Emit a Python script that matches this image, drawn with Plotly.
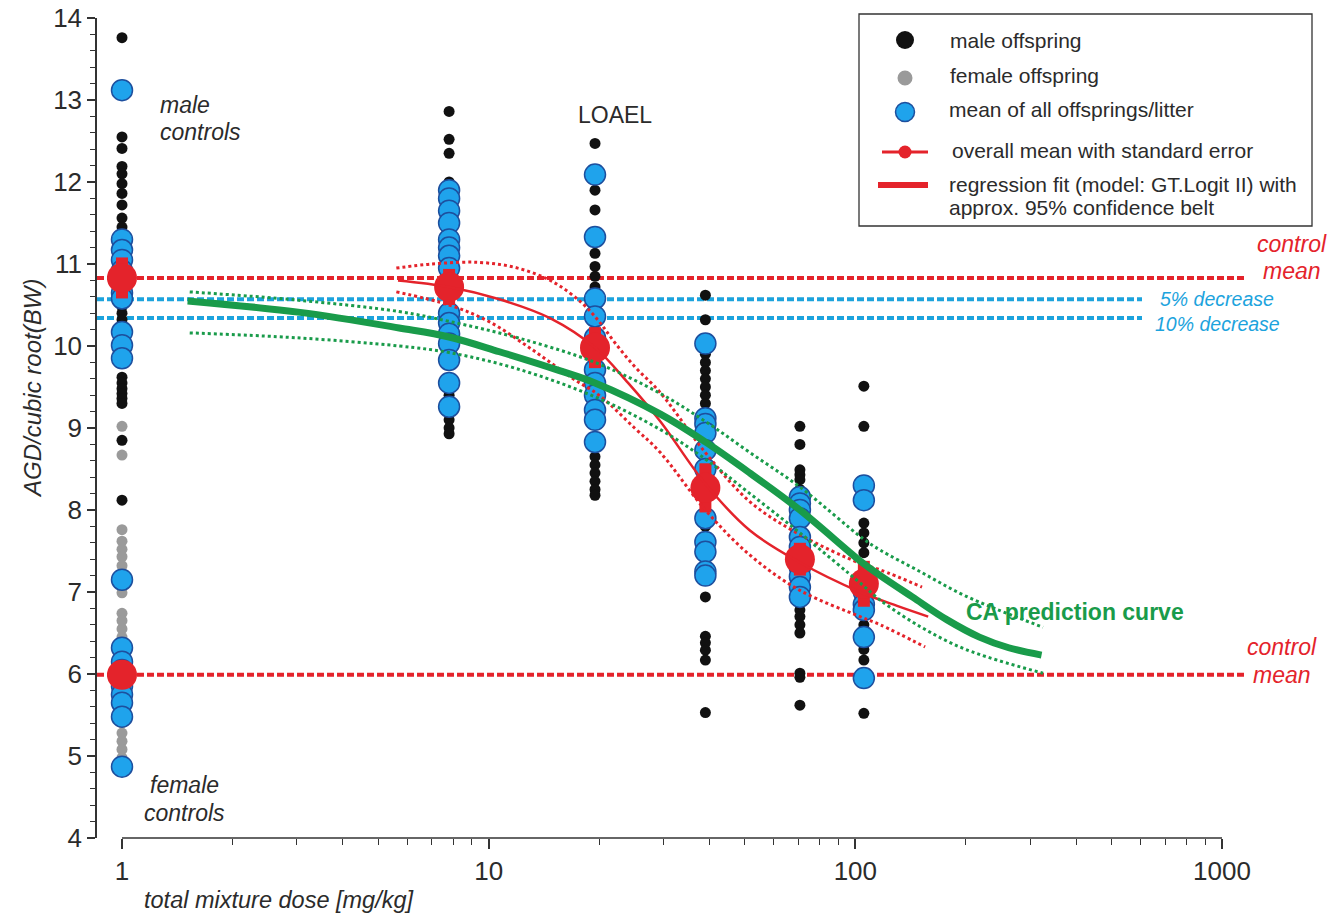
import plotly.graph_objects as go

# ---------------- data ----------------
doses = [7.8, 19.5, 39.0, 70.6, 105.5]

ctrl_male = [13.76, 12.55, 12.41, 12.19, 12.10, 11.98, 11.86, 11.72, 11.56, 11.45, 11.35, 11.2,
             11.05, 10.9, 10.75, 10.6, 10.48, 10.4, 10.32, 10.2, 10.05, 9.9, 9.62, 9.55, 9.48,
             9.42, 9.36, 9.30, 8.85, 8.12]
ctrl_female = [9.02, 8.67, 7.76, 7.62, 7.52, 7.43, 7.32, 7.05, 6.99, 6.74, 6.65, 6.55, 6.45, 6.38,
               6.25, 6.15, 6.05, 5.95, 5.85, 5.75, 5.6, 5.5, 5.4, 5.28, 5.18, 5.08, 4.98]
ctrl_litter = [13.12, 11.30, 11.17, 11.05, 10.92, 10.65, 10.58, 10.17, 10.01, 9.85,
               7.15, 6.32, 6.15, 6.05, 5.85, 5.75, 5.65, 5.48, 4.87]

male_by_dose = [
    [12.86, 12.52, 12.35, 12.0, 11.7, 11.4, 11.0, 10.8, 10.5, 10.2, 9.9, 9.6, 9.4, 9.1, 9.0, 8.93],
    [12.47, 11.90, 11.66, 11.13, 10.97, 10.85, 10.72, 10.45, 9.85, 9.3, 8.65, 8.55, 8.45, 8.35, 8.25, 8.18],
    [10.62, 10.32, 9.9, 9.8, 9.7, 9.6, 9.5, 9.4, 9.3, 9.2, 8.8, 8.6, 8.4, 8.1, 7.8, 7.4, 6.94,
     6.46, 6.38, 6.29, 6.17, 5.53],
    [9.02, 8.80, 8.49, 8.43, 8.37, 8.25, 7.8, 7.0, 6.85, 6.78, 6.70, 6.60, 6.50, 6.01, 5.96, 5.62],
    [9.51, 9.02, 7.84, 7.72, 7.60, 7.48, 7.2, 6.95, 6.9, 6.6, 6.3, 6.17, 5.52],
]
litter_by_dose = [
    [11.90, 11.80, 11.65, 11.50, 11.30, 11.20, 11.10, 10.95, 10.40, 10.28, 10.15, 10.03, 9.83, 9.55, 9.26],
    [12.09, 11.33, 10.58, 10.36, 10.10, 9.95, 9.71, 9.55, 9.40, 9.22, 9.10, 8.83],
    [10.03, 9.12, 9.05, 8.94, 8.73, 8.5, 7.90, 7.61, 7.49, 7.25, 7.20],
    [8.16, 8.08, 8.0, 7.9, 7.67, 7.55, 7.45, 7.3, 7.19, 7.06, 6.94],
    [8.30, 8.12, 7.0, 6.85, 6.78, 6.45, 5.95],
]

mean_dose = [1, 1, 7.8, 19.5, 39.0, 70.6, 105.5]
mean_val = [10.83, 5.99, 10.72, 9.98, 8.27, 7.40, 7.10]
mean_se = [0.25, 0.12, 0.22, 0.25, 0.30, 0.20, 0.28]

ctrl_mean_male = 10.83
ctrl_mean_female = 5.99
dec5 = 10.57
dec10 = 10.34

fit_dose = [5.66, 7.8, 10.7, 14.7, 19.5, 24.0, 29.4, 39.0, 51.6, 70.6, 103, 130, 158]
fit_val = [10.80, 10.72, 10.57, 10.34, 9.98, 9.55, 9.08, 8.32, 7.75, 7.36, 7.0, 6.83, 6.70]
fit_up_dose = [5.6, 7.0, 9.4, 12.0, 15.0, 18.0, 20.0, 22.0, 25.0, 29.4, 39.0, 51.6, 70.6, 103, 117, 152]
fit_up_val = [10.95, 11.0, 11.02, 10.95, 10.78, 10.52, 10.3, 10.05, 9.75, 9.43, 8.7, 8.1, 7.7, 7.35, 7.27, 7.06]
fit_lo_dose = [5.6, 7.8, 10.0, 13.2, 17.0, 20.0, 25.0, 29.4, 39.0, 51.6, 70.6, 103, 117, 155]
fit_lo_val = [10.66, 10.5, 10.3, 9.95, 9.6, 9.4, 9.0, 8.70, 8.0, 7.45, 7.02, 6.7, 6.6, 6.33]

ca_dose = [1.51, 3.06, 5.7, 7.8, 10.7, 15.6, 19.5, 29.4, 39.0, 51.6, 70.6, 105, 117, 143, 178, 218, 262, 322]
ca_val = [10.55, 10.41, 10.22, 10.11, 9.93, 9.70, 9.55, 9.17, 8.83, 8.45, 8.0, 7.35, 7.2, 6.94, 6.66,
          6.45, 6.32, 6.23]
ca_up_dose = [1.53, 3.0, 5.7, 7.8, 12.0, 19.5, 29.4, 39.0, 51.6, 70.6, 105, 117, 150, 200, 325]
ca_up_val = [10.66, 10.56, 10.42, 10.3, 10.1, 9.8, 9.42, 9.08, 8.7, 8.28, 7.65, 7.51, 7.25, 6.95, 6.57]
ca_lo_dose = [1.53, 3.0, 5.7, 7.8, 12.0, 19.5, 29.4, 39.0, 51.6, 70.6, 105, 117, 150, 200, 325]
ca_lo_val = [10.16, 10.1, 10.0, 9.92, 9.72, 9.38, 8.98, 8.62, 8.2, 7.72, 7.08, 6.9, 6.58, 6.3, 6.01]

x_ticks = [1, 10, 100, 1000]
x_ticktext = ["1", "10", "100", "1000"]

# ---------------- styling ----------------
FONT = "Liberation Sans, Arial, sans-serif"
RED = "#E4232B"
BLUE_FILL = "#1FA3EC"
BLUE_EDGE = "#1D4F9E"
BLUE_LINE = "#1CA3DD"
GREEN = "#199B4A"
TXT = "#2b2b2b"

W, H = 1335, 915
L, R, T, B = 97, 1222, 18, 838  # plot area pixels


def px(x):
    return (x - L) / (R - L)


def py(y):
    return (B - y) / (B - T)


fig = go.Figure()

# male offspring
mx, my = [1] * len(ctrl_male), list(ctrl_male)
for d, vals in zip(doses, male_by_dose):
    mx += [d] * len(vals)
    my += vals
fig.add_trace(go.Scatter(x=mx, y=my, mode="markers",
                         marker=dict(size=11, color="#111111"), showlegend=False))
# female offspring
fig.add_trace(go.Scatter(x=[1] * len(ctrl_female), y=ctrl_female, mode="markers",
                         marker=dict(size=11, color="#9a9a9a"), showlegend=False))
# litter means
lx, ly = [1] * len(ctrl_litter), list(ctrl_litter)
for d, vals in zip(doses, litter_by_dose):
    lx += [d] * len(vals)
    ly += vals
fig.add_trace(go.Scatter(x=lx, y=ly, mode="markers",
                         marker=dict(size=21, color=BLUE_FILL, line=dict(color=BLUE_EDGE, width=1.5)),
                         showlegend=False))
# overall means with SE
fig.add_trace(go.Scatter(x=mean_dose, y=mean_val, mode="markers",
                         marker=dict(size=30, color=RED),
                         error_y=dict(type="data", array=mean_se, color=RED, thickness=12, width=0),
                         showlegend=False))

# regression fit + belt
fig.add_trace(go.Scatter(x=fit_up_dose, y=fit_up_val, mode="lines", line_shape="spline",
                         line=dict(color=RED, width=3, dash="dot"), showlegend=False))
fig.add_trace(go.Scatter(x=fit_lo_dose, y=fit_lo_val, mode="lines", line_shape="spline",
                         line=dict(color=RED, width=3, dash="dot"), showlegend=False))
fig.add_trace(go.Scatter(x=fit_dose, y=fit_val, mode="lines", line_shape="spline",
                         line=dict(color=RED, width=2.5), showlegend=False))
# CA prediction
fig.add_trace(go.Scatter(x=ca_up_dose, y=ca_up_val, mode="lines", line_shape="spline",
                         line=dict(color=GREEN, width=3, dash="dot"), showlegend=False))
fig.add_trace(go.Scatter(x=ca_lo_dose, y=ca_lo_val, mode="lines", line_shape="spline",
                         line=dict(color=GREEN, width=3, dash="dot"), showlegend=False))
fig.add_trace(go.Scatter(x=ca_dose, y=ca_val, mode="lines", line_shape="spline",
                         line=dict(color=GREEN, width=7), showlegend=False))

shapes = []
# horizontal reference lines
for yv, color, xend in [(ctrl_mean_male, RED, px(1247)), (ctrl_mean_female, RED, px(1247)),
                        (dec5, BLUE_LINE, px(1142)), (dec10, BLUE_LINE, px(1142))]:
    shapes.append(dict(type="line", xref="paper", yref="y", x0=0, x1=xend, y0=yv, y1=yv,
                       line=dict(color=color, width=4, dash="7px,3px"), layer="below"))
# x axis line (from 1 to 1000 only)
shapes.append(dict(type="line", xref="x", yref="paper", x0=1, x1=1000, y0=0, y1=0,
                   line=dict(color="#333333", width=1.5)))
# legend box
shapes.append(dict(type="rect", xref="paper", yref="paper", x0=px(859), x1=px(1312),
                   y0=py(226), y1=py(14), line=dict(color="#333333", width=1.3),
                   fillcolor="white"))


def circ(cx, cy, r, fill, edge=None, ew=0):
    return dict(type="circle", xref="paper", yref="paper", xsizemode="pixel", ysizemode="pixel",
                xanchor=px(cx), yanchor=py(cy), x0=-r, x1=r, y0=-r, y1=r,
                fillcolor=fill, line=dict(color=edge or fill, width=ew))


shapes.append(circ(905, 40, 9, "#111111"))
shapes.append(circ(905, 78, 7.5, "#9a9a9a"))
shapes.append(circ(905, 112, 9.5, BLUE_FILL, BLUE_EDGE, 1.5))
shapes.append(dict(type="line", xref="paper", yref="paper", x0=px(882), x1=px(928),
                   y0=py(152), y1=py(152), line=dict(color=RED, width=3)))
shapes.append(circ(905, 152, 6.5, RED))
shapes.append(dict(type="line", xref="paper", yref="paper", x0=px(878), x1=px(928),
                   y0=py(185), y1=py(185), line=dict(color=RED, width=6)))

ann = []


def text(x, y, s, size=21, color=TXT, xanchor="left", **kw):
    ann.append(dict(x=px(x), y=py(y), xref="paper", yref="paper", text=s, showarrow=False,
                    xanchor=xanchor, yanchor="middle", font=dict(family=FONT, size=size, color=color),
                    **kw))


text(948, 40, "male offspring")
text(948, 76, "female offspring")
text(947, 110, "mean of all offsprings/litter")
text(950, 150, "overall mean with standard error")
text(947, 185, "regression fit (model: GT.Logit II) with")
text(947, 207, "approx. 95% confidence belt")

text(158, 105, "<i>male</i>", size=23)
text(158, 132, "<i>controls</i>", size=23)
text(184, 785, "<i>female</i>", size=23, xanchor="center")
text(184, 813, "<i>controls</i>", size=23, xanchor="center")
text(615, 115, "LOAEL", size=23, xanchor="center")
text(1329, 244, "<i>control</i>", size=23, color=RED, xanchor="right")
text(1323, 271, "<i>mean</i>", size=23, color=RED, xanchor="right")
text(1319, 647, "<i>control</i>", size=23, color=RED, xanchor="right")
text(1313, 675, "<i>mean</i>", size=23, color=RED, xanchor="right")
text(1158, 299, "<i>5% decrease</i>", size=19.5, color=BLUE_LINE)
text(1153, 324, "<i>10% decrease</i>", size=19.5, color=BLUE_LINE)
text(964, 612, "<b>CA prediction curve</b>", size=23, color=GREEN)
text(142, 900, "<i>total mixture dose [mg/kg]</i>", size=23.5)
ann.append(dict(x=px(33), y=py(389), xref="paper", yref="paper", text="<i>AGD/cubic root(BW)</i>",
                showarrow=False, textangle=-90, xanchor="center", yanchor="middle",
                font=dict(family=FONT, size=24, color=TXT)))

fig.update_layout(
    width=W, height=H,
    margin=dict(l=L, r=W - R, t=T, b=H - B, pad=0, autoexpand=False),
    paper_bgcolor="white", plot_bgcolor="white",
    font=dict(family=FONT, color=TXT),
    shapes=shapes, annotations=ann, showlegend=False,
    xaxis=dict(type="log", range=[-25 / ((R - 122) / 3), 3], showgrid=False, zeroline=False,
               automargin=False,
               showline=False, ticks="outside", ticklen=10, tickwidth=1.5, tickcolor="#333333",
               tickvals=x_ticks, ticktext=x_ticktext, tickfont=dict(size=26, color=TXT),
               minor=dict(ticks="outside", ticklen=6, tickwidth=1.2, tickcolor="#333333",
                          tickvals=[2, 3, 4, 5, 6, 7, 8, 9, 20, 30, 40, 50, 60, 70, 80, 90,
                                    200, 300, 400, 500, 600, 700, 800, 900])),
    yaxis=dict(range=[4, 14], showgrid=False, zeroline=False, showline=True, linecolor="#333333",
               automargin=False,
               linewidth=1.5, ticks="outside", ticklen=8, tickwidth=1.5, tickcolor="#333333",
               dtick=1, tick0=4, tickfont=dict(size=26, color=TXT),
               minor=dict(ticks="outside", ticklen=5, tickwidth=1.2, tickcolor="#333333", dtick=0.2)),
)

fig.write_html("out.html")
